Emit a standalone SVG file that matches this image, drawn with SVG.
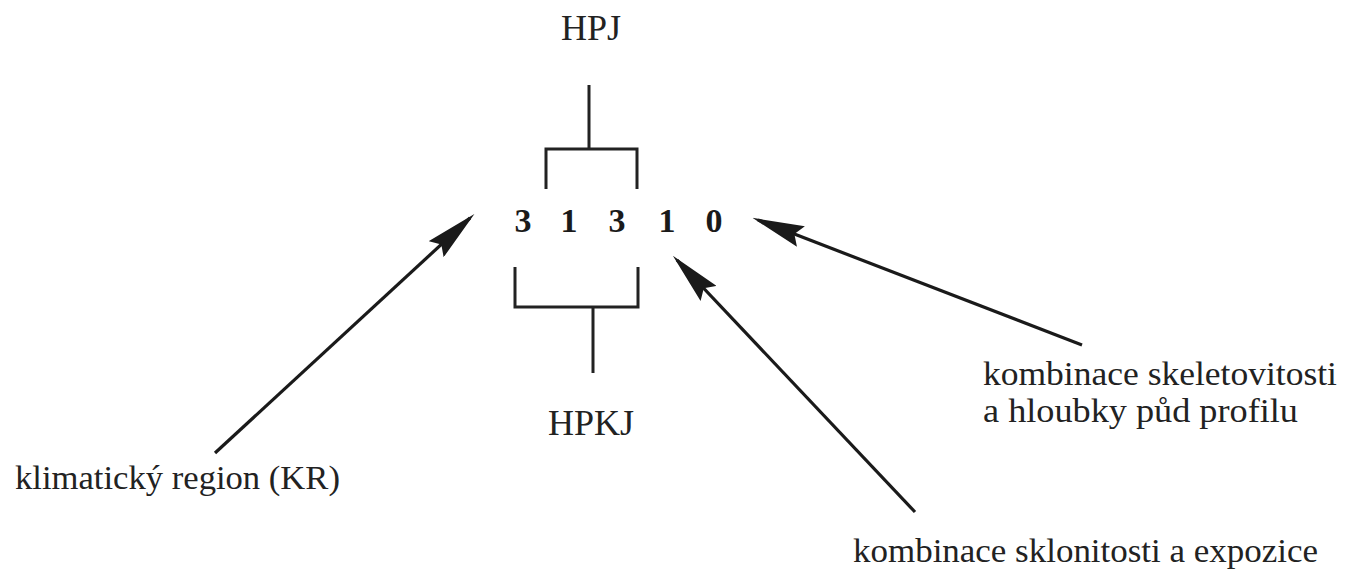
<svg xmlns="http://www.w3.org/2000/svg" width="1345" height="569" viewBox="0 0 1345 569">
<style>
.lbl{font-family:"Liberation Serif","Times New Roman",serif;fill:#222;}
.dig{font-family:"Liberation Serif","Times New Roman",serif;font-weight:bold;font-size:34px;fill:#1a1a1a;text-anchor:middle;}
.br{fill:none;stroke:#222;stroke-width:3;}
.arr{fill:none;stroke:#1a1a1a;stroke-width:3.2;marker-end:url(#ah);}
</style>
<defs>
<marker id="ah" markerUnits="userSpaceOnUse" markerWidth="52" markerHeight="22" viewBox="0 0 52 22" refX="46" refY="11" orient="auto">
<path d="M0,0 L52,11 L0,22 L7,11 z" fill="#1a1a1a"/>
</marker>
</defs>
<rect width="1345" height="569" fill="#ffffff"/>
<g id="hpj">
<text class="lbl" x="591" y="40" font-size="36" text-anchor="middle">HPJ</text>
<path class="br" d="M589,85 V149 M546,189 V149 H637 V189"/>
</g>
<g id="code">
<text class="dig" x="523" y="232">3</text>
<text class="dig" x="569" y="232">1</text>
<text class="dig" x="617" y="232">3</text>
<text class="dig" x="667" y="232">1</text>
<text class="dig" x="714" y="232">0</text>
</g>
<g id="hpkj">
<path class="br" d="M515,267 V307 H638 V267 M593,307 V373"/>
<text class="lbl" x="591" y="435" font-size="36" text-anchor="middle">HPKJ</text>
</g>
<g id="kr">
<text class="lbl" x="15" y="489" font-size="33" textLength="325" lengthAdjust="spacingAndGlyphs">klimatický region (KR)</text>
</g>
<g id="skelet">
<text class="lbl" x="983" y="385" font-size="33" textLength="354" lengthAdjust="spacingAndGlyphs">kombinace skeletovitosti</text>
<text class="lbl" x="983" y="422" font-size="33" textLength="315" lengthAdjust="spacingAndGlyphs">a hloubky půd profilu</text>
</g>
<g id="sklon">
<text class="lbl" x="853" y="562" font-size="33" textLength="465" lengthAdjust="spacingAndGlyphs">kombinace sklonitosti a expozice</text>
</g>
<g id="connectors">
<line class="arr" x1="215" y1="453" x2="470" y2="218"/>
<line class="arr" x1="1082" y1="345" x2="758" y2="220"/>
<line class="arr" x1="915" y1="512" x2="677" y2="260"/>
</g>
</svg>
